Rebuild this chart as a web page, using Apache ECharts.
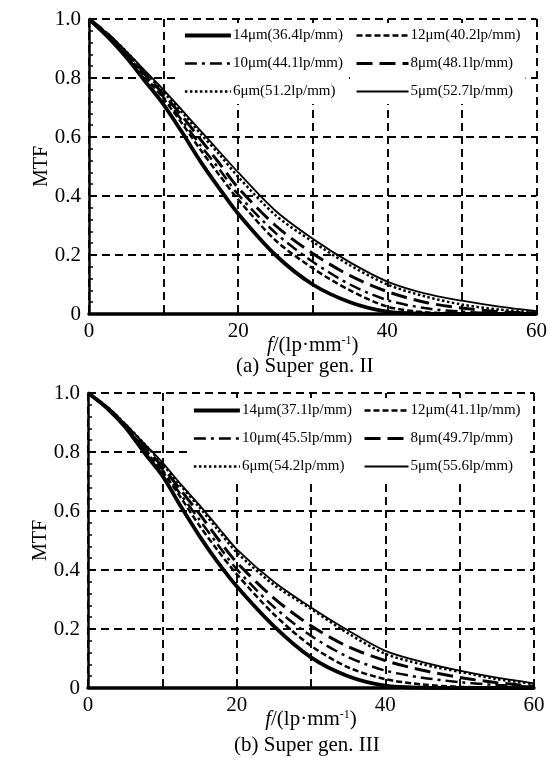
<!DOCTYPE html>
<html>
<head>
<meta charset="utf-8">
<script src="https://cdn.jsdelivr.net/npm/echarts@6/dist/echarts.min.js"></script>
<style>
  html, body { margin: 0; padding: 0; background: #fff; }
  #chart { width: 550px; height: 758px; }
</style>
</head>
<body>
<div id="chart"></div>
<script type="text/javascript">
    // spatial frequency f (lp/mm)
    var freq = [0, 2.5, 5, 7.5, 10, 12.5, 15, 17.5, 20, 25, 30, 35, 40, 45, 50, 55, 60];

    // (a) Super gen. II
    var namesA = ['14μm(36.4lp/mm)', '12μm(40.2lp/mm)', '10μm(44.1lp/mm)', '8μm(48.1lp/mm)', '6μm(51.2lp/mm)', '5μm(52.7lp/mm)'];
    var a14 = [1.0, 0.94, 0.87, 0.79, 0.71, 0.615, 0.515, 0.425, 0.34, 0.20, 0.10, 0.04, 0.008, 0.001, 0, 0, 0];
    var a12 = [1.0, 0.945, 0.88, 0.805, 0.73, 0.645, 0.555, 0.47, 0.388, 0.25, 0.155, 0.08, 0.025, 0.006, 0.002, 0, 0];
    var a10 = [1.0, 0.945, 0.885, 0.81, 0.735, 0.655, 0.57, 0.49, 0.405, 0.275, 0.177, 0.10, 0.047, 0.02, 0.008, 0.002, 0];
    var a8  = [1.0, 0.95, 0.885, 0.815, 0.745, 0.67, 0.59, 0.51, 0.428, 0.30, 0.205, 0.13, 0.076, 0.04, 0.02, 0.008, 0.003];
    var a6  = [1.0, 0.95, 0.89, 0.82, 0.752, 0.683, 0.61, 0.54, 0.465, 0.335, 0.245, 0.165, 0.10, 0.06, 0.032, 0.015, 0.006];
    var a5  = [1.0, 0.95, 0.89, 0.825, 0.76, 0.69, 0.62, 0.55, 0.48, 0.35, 0.255, 0.175, 0.11, 0.07, 0.045, 0.025, 0.01];

    // (b) Super gen. III
    var namesB = ['14μm(37.1lp/mm)', '12μm(41.1lp/mm)', '10μm(45.5lp/mm)', '8μm(49.7lp/mm)', '6μm(54.2lp/mm)', '5μm(55.6lp/mm)'];
    var b14 = [1.0, 0.95, 0.885, 0.80, 0.72, 0.615, 0.515, 0.425, 0.345, 0.21, 0.104, 0.04, 0.008, 0.001, 0, 0, 0];
    var b12 = [1.0, 0.95, 0.89, 0.81, 0.735, 0.645, 0.55, 0.465, 0.386, 0.25, 0.143, 0.07, 0.03, 0.012, 0.004, 0.001, 0];
    var b10 = [1.0, 0.952, 0.89, 0.815, 0.74, 0.655, 0.57, 0.485, 0.403, 0.275, 0.177, 0.105, 0.059, 0.035, 0.02, 0.01, 0.004];
    var b8  = [1.0, 0.953, 0.893, 0.82, 0.75, 0.67, 0.59, 0.505, 0.426, 0.305, 0.211, 0.14, 0.093, 0.06, 0.036, 0.018, 0.006];
    var b6  = [1.0, 0.955, 0.895, 0.83, 0.76, 0.685, 0.612, 0.535, 0.46, 0.35, 0.268, 0.185, 0.116, 0.08, 0.055, 0.03, 0.014];
    var b5  = [1.0, 0.955, 0.895, 0.83, 0.765, 0.69, 0.62, 0.545, 0.471, 0.36, 0.273, 0.195, 0.126, 0.088, 0.059, 0.035, 0.016];

    var xTicks = [0, 20, 40, 60];

    var serif = 'Liberation Serif';
    // line styles per curve: 14, 12, 10, 8, 6, 5 um
    var styles = [
        { width: 3.8, type: 'solid' },
        { width: 2.5, type: [6, 3] },
        { width: 2.5, type: [12, 5, 3, 5] },
        { width: 3, type: [16, 7] },
        { width: 2.5, type: [2.5, 2.5] },
        { width: 1.8, type: 'solid' }
    ];

    function pairs(vals) {
        return vals.map(function (v, i) { return [freq[i], v]; });
    }

    function makeSeries(names, sets, idx) {
        return sets.map(function (vals, k) {
            return {
                name: names[k],
                type: 'line',
                xAxisIndex: idx,
                yAxisIndex: idx,
                smooth: 0.3,
                symbol: 'none',
                lineStyle: { color: '#000', width: styles[k].width, type: styles[k].type },
                itemStyle: { color: '#000' },
                data: pairs(vals)
            };
        });
    }

    function xAxis(idx) {
        return {
            type: 'value', gridIndex: idx, min: 0, max: 60, interval: 10,
            name: '{i|f}/(lp·mm{s|-1})',
            nameLocation: 'middle', nameGap: 21, nameMoveOverlap: false,
            nameTextStyle: {
                color: '#000', fontFamily: serif, fontSize: 21,
                rich: {
                    i: { fontStyle: 'italic', fontFamily: serif, fontSize: 21, color: '#000' },
                    s: { fontFamily: serif, fontSize: 12, color: '#000', verticalAlign: 'top', padding: [0, 0, 9, 0] }
                }
            },
            axisLine: { lineStyle: { color: '#000', width: 3.5 } },
            axisTick: { inside: true, length: 4, lineStyle: { color: '#000', width: 1.5 } },
            axisLabel: {
                color: '#000', fontFamily: serif, fontSize: 21, margin: 7,
                formatter: function (v) { return xTicks.indexOf(v) >= 0 ? String(v) : ''; }
            },
            splitLine: { show: true, lineStyle: { color: '#000', width: 1.9, type: [8, 5] } }
        };
    }

    function yAxis(idx) {
        return {
            type: 'value', gridIndex: idx, min: 0, max: 1, interval: 0.2,
            name: 'MTF', nameLocation: 'middle', nameGap: 37, nameRotate: 90, nameMoveOverlap: false,
            nameTextStyle: { color: '#000', fontFamily: serif, fontSize: 20 },
            axisLine: { show: true, lineStyle: { color: '#000', width: 2.5 } },
            axisTick: { show: true, inside: true, length: 5, lineStyle: { color: '#000', width: 1.5 } },
            minorTick: { show: true, splitNumber: 5, length: 4, lineStyle: { color: '#000', width: 1.5 } },
            axisLabel: {
                color: '#000', fontFamily: serif, fontSize: 21, margin: 8,
                formatter: function (v) { return v === 0 ? '0' : v.toFixed(1); }
            },
            splitLine: { show: true, lineStyle: { color: '#000', width: 1.9, type: [8, 5] } }
        };
    }

    function legend(names, left, top, w) {
        return {
            orient: 'vertical', left: left, top: top,
            data: names, padding: 5,
            itemWidth: w, itemHeight: 14, itemGap: 13,
            backgroundColor: '#fff',
            selectedMode: false,
            itemStyle: { opacity: 0 },
            lineStyle: { width: 'inherit', type: 'inherit' },
            textStyle: { color: '#000', fontFamily: serif, fontSize: 15, padding: [0, 0, 0, -3] }
        };
    }

    var myChart = echarts.init(document.getElementById('chart'), null, { renderer: 'canvas' });

    var option = {
        backgroundColor: '#fff',
        animation: false,
        grid: [
            { left: 89, right: 13, top: 19, height: 295 },
            { left: 88, right: 16, top: 393, height: 295 }
        ],
        xAxis: [xAxis(0), xAxis(1)],
        yAxis: [yAxis(0), yAxis(1)],
        legend: [
            legend([namesA[0], namesA[2], namesA[4]], 178, 23, 46),
            legend([namesA[1], namesA[3], namesA[5]], 350, 23, 52),
            legend([namesB[0], namesB[2], namesB[4]], 187, 398, 46),
            legend([namesB[1], namesB[3], namesB[5]], 358, 398, 44)
        ],
        graphic: [
            { type: 'text', left: 236, top: 356, style: { text: '(a) Super gen. II', fill: '#000', font: '21px "Liberation Serif"' } },
            { type: 'text', left: 234, top: 735, style: { text: '(b) Super gen. III', fill: '#000', font: '21px "Liberation Serif"' } }
        ],
        series: makeSeries(namesA, [a14, a12, a10, a8, a6, a5], 0)
            .concat(makeSeries(namesB, [b14, b12, b10, b8, b6, b5], 1))
    };

    myChart.setOption(option);
</script>
</body>
</html>
